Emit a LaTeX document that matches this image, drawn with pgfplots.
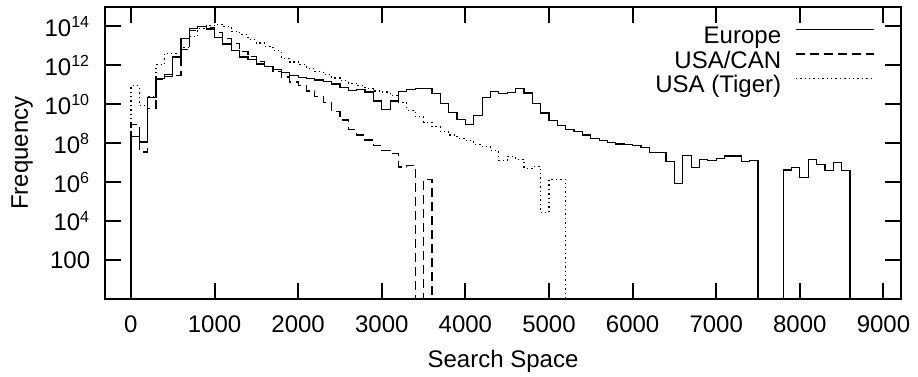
\documentclass[border=0pt]{standalone}
\usepackage{fontspec}
\setmainfont{Liberation Sans}
\usepackage{pgfplots}
\pgfplotsset{compat=1.18}
\pgfplotstableread{
x y
-100 1e-3
0 2.19e8
100 1.15e8
200 2.24e10
300 2.04e11
400 2.69e11
500 2.69e12
600 2.51e13
700 7.59e13
800 1.0e14
900 7.41e13
1000 2.82e13
1100 1.26e13
1200 5.89e12
1300 2.69e12
1400 1.95e12
1500 1.17e12
1600 8.71e11
1700 5.89e11
1800 4.37e11
1900 2.95e11
2000 2.34e11
2100 2.09e11
2200 1.78e11
2300 1.55e11
2400 1.12e11
2500 7.59e10
2600 5.25e10
2700 6.03e10
2800 4.27e10
2900 1.48e10
3000 5.37e9
3100 1.48e10
3200 4.57e10
3300 5.89e10
3400 6.61e10
3500 6.61e10
3600 3.55e10
3700 1.12e10
3800 3.72e9
3900 1.66e9
4000 9.55e8
4100 2.63e9
4200 2.24e10
4300 4.37e10
4400 3.72e10
4500 3.98e10
4600 6.31e10
4700 3.80e10
4800 1.10e10
4900 3.55e9
5000 1.48e9
5100 7.94e8
5200 4.9e8
5300 4.17e8
5400 2.63e8
5500 1.78e8
5600 1.45e8
5700 1.12e8
5800 9.12e7
5900 8.91e7
6000 7.41e7
6100 6.03e7
6200 3.47e7
6300 3.47e7
6400 1.15e7
6500 8.91e5
6600 2.34e7
6700 5.62e6
6800 1.41e7
6900 1.26e7
7000 1.58e7
7100 2.24e7
7200 2.24e7
7300 1.12e7
7400 1.26e7
7500 1e-3
7600 1e-3
7700 1e-3
7800 4.27e6
7900 5.62e6
8000 1.74e6
8100 1.51e7
8200 7.76e6
8300 3.98e6
8400 1.02e7
8500 3.98e6
8600 1e-3
}\europe
\pgfplotstableread{
x y
-100 1e-3
0 8.91e8
100 3.55e7
200 6.31e9
300 2.0e11
400 3.55e11
500 3.16e11
600 6.31e12
700 6.31e13
800 1.0e14
900 8.91e13
1000 5.01e13
1100 2.51e13
1200 1.32e13
1300 5.01e12
1400 2.82e12
1500 1.58e12
1600 8.91e11
1700 5.01e11
1800 2.51e11
1900 1.41e11
2000 9.55e10
2100 4.79e10
2200 2.51e10
2300 1.23e10
2400 4.27e9
2500 1.58e9
2600 5.25e8
2700 2.69e8
2800 1.48e8
2900 7.94e7
3000 4.27e7
3100 3.02e7
3200 6.03e6
3300 7.24e6
3400 1e-3
3500 1.41e6
3600 1e-3
}\usacan
\pgfplotstableread{
x y
-100 1e-3
0 8.91e10
100 8.91e9
200 2.51e10
300 1.07e12
400 4.27e12
500 4.27e12
600 7.94e12
700 3.16e13
800 7.94e13
900 1.12e14
1000 1.32e14
1100 1.0e14
1200 5.5e13
1300 3.72e13
1400 2.09e13
1500 1.41e13
1600 9.33e12
1700 5.62e12
1800 2.34e12
1900 1.51e12
2000 1.07e12
2100 6.76e11
2200 4.9e11
2300 3.31e11
2400 2.24e11
2500 1.66e11
2600 1.23e11
2700 8.91e10
2800 6.31e10
2900 4.79e10
3000 4.27e10
3100 2.82e10
3200 1.26e10
3300 5.01e9
3400 2.34e9
3500 1.2e9
3600 7.08e8
3700 3.98e8
3800 2.69e8
3900 1.82e8
4000 1.38e8
4100 8.91e7
4200 6.76e7
4300 4.17e7
4400 1.29e7
4500 2.09e7
4600 1.51e7
4700 5.25e6
4800 6.31e6
4900 2.75e4
5000 1.41e6
5100 1.41e6
5200 1e-3
}\tiger
\begin{document}
\begin{tikzpicture}[font=\fontsize{12}{14}\selectfont]
\begin{axis}[
  ymode=log,
  scale only axis, width=398pt, height=146pt,
  xmin=-310, xmax=9210, ymin=1, ymax=1e15,
  xtick={0,1000,2000,3000,4000,5000,6000,7000,8000,9000},
  xticklabels={0,1000,2000,3000,4000,5000,6000,7000,8000,9000},
  ytick={100,1e4,1e6,1e8,1e10,1e12,1e14},
  yticklabels={100,{10\textsuperscript{4}},{10\textsuperscript{6}},{10\textsuperscript{8}},{10\textsuperscript{10}},{10\textsuperscript{12}},{10\textsuperscript{14}}},
  tick align=inside, tick pos=both,
  major tick length=8pt,
  axis line style={line width=1pt},
  every tick/.style={line width=1pt, black},
  xticklabel style={yshift=-4.8pt},
  yticklabel style={xshift=-3.9pt},
  xlabel={Search Space}, ylabel={Frequency},
  xlabel style={at={(axis description cs:0.5,-0.236)}, anchor=base},
  ylabel style={at={(axis description cs:-0.104,0.5)}, anchor=center},
  legend style={draw=none, fill=none, at={(axis description cs:0.967,0.937)}, anchor=north east,
    inner sep=0pt, row sep=0.25pt, column sep=7pt,
    nodes={inner sep=0pt, text height=9pt, text depth=3pt}},
  legend cell align=right,
  legend plot pos=right,
  legend image code/.code={\draw[#1] (0pt,4.2pt) -- (39pt,4.2pt);},
]
\addplot[black, line width=0.6pt, const plot] table {\europe};
\addlegendentry{Europe}
\addplot[black, line width=0.6pt, const plot, dash pattern=on 4.5pt off 2.5pt] table {\usacan};
\addlegendentry{USA/CAN}
\addplot[black, line width=0.6pt, const plot, dash pattern=on 0.7pt off 1.5pt] table {\tiger};
\addlegendentry{USA (Tiger)}
\end{axis}
\path (current axis.south west) ++(-52.5pt,-38.5pt) coordinate (bl);
\path (current axis.north east) ++(8.5pt,3.5pt) coordinate (tr);
\pgfresetboundingbox
\useasboundingbox (bl) rectangle (tr);
\end{tikzpicture}
\end{document}
